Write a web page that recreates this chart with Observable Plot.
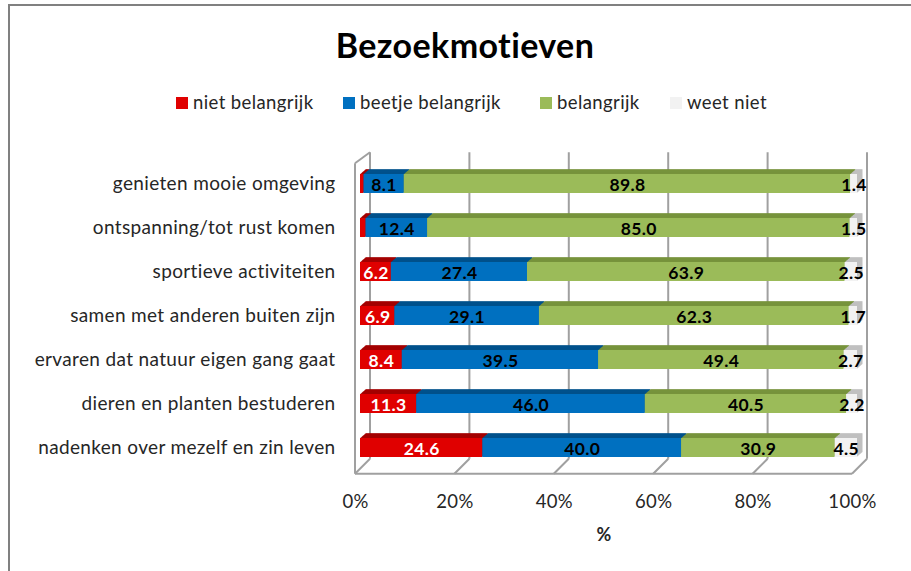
<!DOCTYPE html>
<html>
<head>
<meta charset="utf-8">
<script src="https://cdn.jsdelivr.net/npm/d3@7"></script>
<script src="https://cdn.jsdelivr.net/npm/@observablehq/plot@0.6"></script>
<style>
  html, body { margin: 0; padding: 0; background: #fff; }
  body { width: 911px; height: 571px; overflow: hidden; position: relative; font-family: Lato, "Open Sans", sans-serif; color: #262626; }
  #border { position: absolute; left: 8px; top: 4px; width: 1000px; height: 1000px; border: 2px solid #808080; box-sizing: border-box; }
  #title { position: absolute; left: 0; top: 24px; width: 930px; text-align: center; font-weight: bold; font-size: 34px; letter-spacing: 0.4px; color: #000; }
  #legend { position: absolute; left: 0; top: 90px; width: 911px; height: 26px; font-size: 18.5px; letter-spacing: 0.4px; }
  .sw { position: absolute; width: 12px; height: 12px; top: 7px; }
  .lt { position: absolute; top: 0; line-height: 24px; white-space: nowrap; }
  #chart { position: absolute; left: 0; top: 120px; }
  #chart text { letter-spacing: 0.35px; }
</style>
</head>
<body>
<div id="border"></div>
<div id="title">Bezoekmotieven</div>
<div id="legend"></div>
<div id="chart"></div>
<script>
const categories = [
  "genieten mooie omgeving",
  "ontspanning/tot rust komen",
  "sportieve activiteiten",
  "samen met anderen buiten zijn",
  "ervaren dat natuur eigen gang gaat",
  "dieren en planten bestuderen",
  "nadenken over mezelf en zin leven"
];
const seriesNames = ["niet belangrijk", "beetje belangrijk", "belangrijk", "weet niet"];
const nietBelangrijk   = [0.7, 1.1, 6.2, 6.9, 8.4, 11.3, 24.6];
const beetjeBelangrijk = [8.1, 12.4, 27.4, 29.1, 39.5, 46.0, 40.0];
const belangrijk       = [89.8, 85.0, 63.9, 62.3, 49.4, 40.5, 30.9];
const weetNiet         = [1.4, 1.5, 2.5, 1.7, 2.7, 2.2, 4.5];
const xTicks = [0, 20, 40, 60, 80, 100];
const frontColors = ["#e00000", "#0070c0", "#9bbb59", "#f2f2f2"];
const topColors   = ["#a40000", "#00528c", "#77933c", "#c0c0c0"];

const seriesValues = [nietBelangrijk, beetjeBelangrijk, belangrijk, weetNiet];
const data = categories.flatMap((c, i) => seriesNames.map((s, j) => ({cat: c, series: s, si: j, value: seriesValues[j][i]})));

// legend
const legend = document.getElementById("legend");
const legendTextLeft = [193, 360, 557, 687];
seriesNames.forEach((s, j) => {
  const sw = document.createElement("div");
  sw.className = "sw"; sw.style.left = (legendTextLeft[j] - 17) + "px"; sw.style.background = frontColors[j];
  const t = document.createElement("div");
  t.className = "lt"; t.style.left = legendTextLeft[j] + "px"; t.textContent = s;
  legend.appendChild(sw); legend.appendChild(t);
});

const W = 911, H = 451;
const yRange = [44.2, 345.8];
const depthFront = -5, depthBack = 10;
const N = 8, ddx = 5.5, ddy = -4.8;

const walls = (index, scales) => {
  const x = scales.x;
  const yTopF = yRange[0] - 1, yBotF = yRange[1] + 8;
  const yTopB = yRange[0] - 12, yBotB = yRange[1] - 7;
  const g = d3.create("svg:g").attr("fill", "none").attr("stroke", "#a0a0a0").attr("stroke-width", 2);
  for (const v of xTicks) {
    g.append("line").attr("x1", x(v) + depthBack).attr("x2", x(v) + depthBack).attr("y1", yTopB).attr("y2", yBotB);
    g.append("line").attr("x1", x(v) + depthBack).attr("x2", x(v) + depthFront).attr("y1", yBotB).attr("y2", yBotF);
  }
  g.append("line").attr("x1", x(0) + depthFront).attr("x2", x(0) + depthFront).attr("y1", yTopF).attr("y2", yBotF);
  g.append("line").attr("x1", x(0) + depthFront).attr("x2", x(0) + depthBack).attr("y1", yTopF).attr("y2", yTopB);
  g.append("line").attr("x1", x(0) + depthFront).attr("x2", x(100) + depthFront).attr("y1", yBotF).attr("y2", yBotF);
  return g.node();
};

const marks = [walls];
for (let k = N; k >= 1; k--) {
  marks.push(Plot.barX(data, {x: "value", y: "cat", fill: d => topColors[d.si], dx: k * ddx / N, dy: k * ddy / N, inset: 0}));
}
marks.push(Plot.barX(data, {x: "value", y: "cat", fill: d => frontColors[d.si], inset: 0}));
marks.push(Plot.text(data, Plot.stackX({
  x: "value", y: "cat",
  text: d => (d.si === 0 && d.value < 2) ? "" : d.value.toFixed(1),
  fill: d => d.si === 0 ? "#ffffff" : "#000000",
  fontWeight: "bold", fontSize: 17.5, dy: 1
})));
marks.push(Plot.axisY({tickSize: 0, tickPadding: 25, fontSize: 19, label: null}));
marks.push(Plot.text(xTicks, {x: d => d, text: d => d + "%", frameAnchor: "bottom", dx: depthFront, dy: 19, fontSize: 18.5}));
marks.push(Plot.text(["%"], {frameAnchor: "bottom", dx: -5, dy: 52, fontSize: 18, fontWeight: "bold"}));

const chart = Plot.plot({
  width: W, height: H,
  marginLeft: 360, marginRight: 54, marginTop: 32, marginBottom: 83,
  style: {fontFamily: "Lato, 'Open Sans', sans-serif", fontSize: "17px", color: "#262626", background: "transparent", overflow: "visible"},
  x: {domain: [0, 100], axis: null},
  y: {domain: categories, range: yRange, paddingInner: 0.57, paddingOuter: 0.2, axis: null},
  color: {type: "identity"},
  marks
});
document.getElementById("chart").appendChild(chart);
</script>
</body>
</html>
